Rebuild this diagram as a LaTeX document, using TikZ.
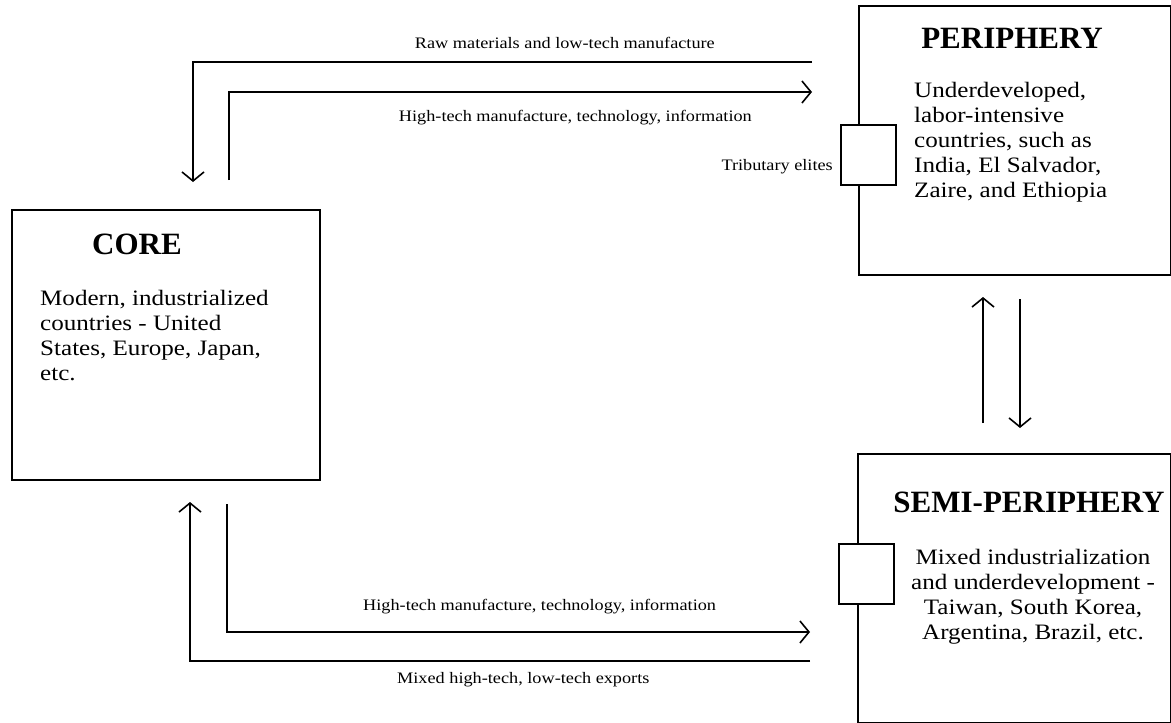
\documentclass[tikz,border=0pt]{standalone}
\usepackage{fontspec}
\setmainfont{Liberation Serif}
\newfontfamily\bodyfont[FakeStretch=1.14]{Liberation Serif}
\usetikzlibrary{arrows.meta}
\begin{document}
\begin{tikzpicture}[x=1pt,y=-1pt,
  box/.style={draw, line width=1.8pt, fill=white, inner sep=0, anchor=north west},
  flow/.style={line width=1.8pt, -{Straight Barb[length=9pt,width=22pt,line width=1.6pt]}},
  head/.style={font=\fontsize{31}{36}\selectfont\bfseries, inner sep=0},
  body/.style={font=\bodyfont\fontsize{22}{25}\selectfont, inner sep=0, align=left},
  lab/.style={font=\bodyfont\fontsize{16}{19}\selectfont, inner sep=0}]
\useasboundingbox (0,0) rectangle (1171,723);
% main boxes
\node[box, minimum width=308pt, minimum height=270pt] (core) at (11,209) {};
\node[box, minimum width=312pt, minimum height=269pt] (peri) at (858,5) {};
\node[box, minimum width=313pt, minimum height=269pt] (semi) at (857,453) {};
% tributary elite boxes
\node[box, minimum width=55pt, minimum height=60pt] (trib) at (840,124) {};
\node[box, minimum width=55pt, minimum height=60pt] (strib) at (838,543) {};
% titles
\node[head] (coreT) at (137,244) {CORE};
\node[head] (periT) at (1012,38) {PERIPHERY};
\node[head] (semiT) at (1029,502) {SEMI-PERIPHERY};
% bodies
\node[body, anchor=north west] (coreB) at (40,290) {Modern, industrialized\\countries - United\\States, Europe, Japan,\\etc.};
\node[body, anchor=north west] (periB) at (914,82) {Underdeveloped,\\labor-intensive\\countries, such as\\India, El Salvador,\\Zaire, and Ethiopia};
\node[body, align=center, anchor=north] (semiB) at (1033,549) {Mixed industrialization\\and underdevelopment -\\Taiwan, South Korea,\\Argentina, Brazil, etc.};
% connector end points
\coordinate (rawS) at (812,62);
\coordinate (rawE) at (193,182);
\coordinate (htS) at (229,180);
\coordinate (htE) at (812,92);
\coordinate (htbS) at (227,504);
\coordinate (htbE) at (810,632);
\coordinate (mixS) at (810,661);
\coordinate (mixE) at (190,502);
\coordinate (upS) at (983,423);
\coordinate (upE) at (983,297);
\coordinate (dnS) at (1020,299);
\coordinate (dnE) at (1020,428);
% connectors
\draw[flow] (rawS) -| (rawE);
\draw[flow] (htS) |- (htE);
\draw[flow] (htbS) |- (htbE);
\draw[flow] (mixS) -| (mixE);
\draw[flow] (upS) -- (upE);
\draw[flow] (dnS) -- (dnE);
% labels
\node[lab, anchor=east] (rawL) at (715,43) {Raw materials and low-tech manufacture};
\node[lab, anchor=east] (htL) at (752,118) {High-tech manufacture, technology, information};
\node[lab, anchor=east] (tribL) at (833,167) {Tributary elites};
\node[lab, anchor=west] (htbL) at (363,607) {High-tech manufacture, technology, information};
\node[lab, anchor=west] (mixL) at (397,680) {Mixed high-tech, low-tech exports};
\end{tikzpicture}
\end{document}
